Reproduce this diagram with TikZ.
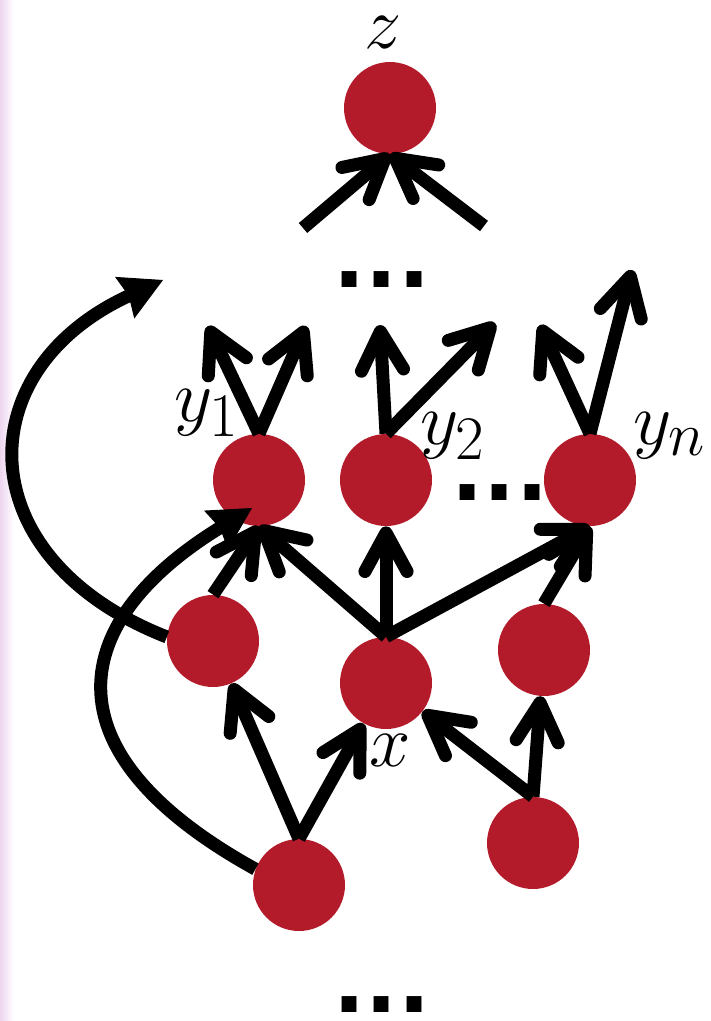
\documentclass[tikz,border=0pt]{standalone}
\usepackage{fontspec}
\newfontfamily\puntinifont{DejaVu Sans}
\usetikzlibrary{arrows.meta, positioning}
\definecolor{rossonodo}{RGB}{179,26,42}
\definecolor{rosafondo}{RGB}{238,214,240}

\begin{document}
\begin{tikzpicture}[
  x=0.02cm, y=-0.02cm,
  nodo/.style={circle, fill=rossonodo, minimum size=1.84cm, inner sep=0pt},
  freccia/.style={draw=black, line width=7.4pt, -{Straight Barb[round, length=22pt, width=24pt]}},
  arco/.style={draw=black, line width=7.4pt, -{Stealth[inset=2.5pt, length=24pt, width=26pt, line width=0.5pt]}},
  etichetta/.style={font=\Huge, scale=1.7, inner sep=0pt},
  puntini/.style={font=\puntinifont\bfseries\fontsize{48}{56}\selectfont, inner sep=0pt,
                  anchor=base, text height=0.22em, text depth=0pt}
]
\useasboundingbox (0,0) rectangle (710,1021);

% bordo sinistro
\shade[left color=rosafondo, right color=white] (0,0) rectangle (14,1021);

% nodi
\node[nodo] (z)  at (390,108) {};
\node[nodo] (y1) at (259,480) {};
\node[nodo] (y2) at (386,480) {};
\node[nodo] (yn) at (590,480) {};
\node[nodo] (a)  at (213,641) {};
\node[nodo] (x)  at (386,683) {};
\node[nodo] (c)  at (544,650) {};
\node[nodo] (b)  at (299,885) {};
\node[nodo] (d)  at (533,843) {};

% etichette
\node[etichetta] (lz)  at (383,33)  {$z$};
\node[etichetta] (ly1) at (207,413) {$y_1$};
\node[etichetta] (ly2) at (453,436) {$y_2$};
\node[etichetta] (lyn) at (670,436) {$y_n$};
\node[etichetta] (lx)  at (390,750) {$x$};

% puntini
\node[puntini] (p1) at (382,287) {...};
\node[puntini] (p2) at (500,500) {...};
\node[puntini] (p3) at (382,1012) {...};

% estremi liberi
\coordinate (za) at (303,228);
\coordinate (zb) at (484,226);
\coordinate (u1a) at (208,326);
\coordinate (u1b) at (306,326);
\coordinate (u2a) at (380,325);
\coordinate (u2b) at (495,323);
\coordinate (una) at (540,325);
\coordinate (unb) at (632,270);
\coordinate (ua) at (163,280);

% verso z
\draw[freccia] (za) -- (z.south);
\draw[freccia] (zb) -- (z.south);

% uscite
\draw[freccia] (y1.north) -- (u1a);
\draw[freccia] (y1.north) -- (u1b);
\draw[freccia] (y2.north) -- (u2a);
\draw[freccia] (y2.north) -- (u2b);
\draw[freccia] (yn.north) -- (una);
\draw[freccia] (yn.north) -- (unb);

% collegamenti interni
\draw[freccia] (a.north) -- (y1.south);
\draw[freccia] (x.north) -- (y1.south);
\draw[freccia] (x.north) -- (y2.south);
\draw[freccia] (x.north) -- (yn.south);
\draw[freccia] (c.north) -- (yn.south);
\draw[freccia] (b.north) -- (a);
\draw[freccia] (b.north) -- (x);
\draw[freccia] (d.north) -- (x);
\draw[freccia] (d.north) -- (c);

% archi lunghi
\draw[arco] (a.175) .. controls (-32,559) and (-34,371) .. (ua);
\draw[arco] (b.160) .. controls (40,750) and (70,620) .. ([shift={(-7,28)}]y1.center);

\end{tikzpicture}
\end{document}
